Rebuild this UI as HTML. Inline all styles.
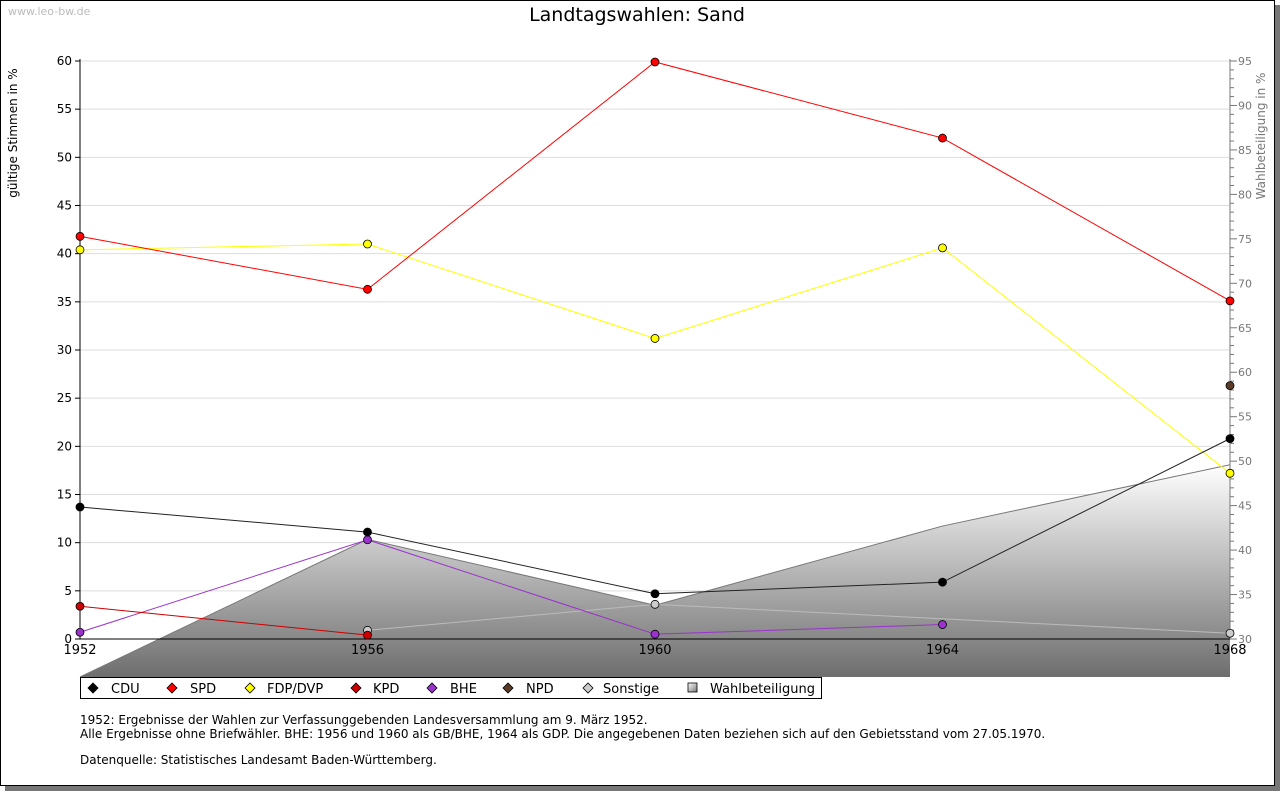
<!DOCTYPE html>
<html><head><meta charset="utf-8"><style>
body{margin:0;background:#fff;width:1280px;height:791px;overflow:hidden;font-family:"Liberation Sans","DejaVu Sans",sans-serif}
svg text{font-family:"DejaVu Sans","Liberation Sans",sans-serif}
</style></head><body>
<svg id="c" width="1280" height="791" xmlns="http://www.w3.org/2000/svg">
<defs>
<linearGradient id="ag" x1="0" y1="0" x2="0" y2="1">
<stop offset="0" stop-color="#ffffff"/><stop offset="1" stop-color="#6e6e6e"/></linearGradient>
<linearGradient id="lg" x1="0" y1="0" x2="1" y2="1">
<stop offset="0" stop-color="#fff"/><stop offset="1" stop-color="#777"/></linearGradient>
</defs>
<rect x="5" y="5" width="1275" height="786" fill="#777"/>
<rect x="0.5" y="0.5" width="1274" height="785" fill="#fff" stroke="#000"/>
<text x="8" y="15" font-size="11" fill="#bbb">www.leo-bw.de</text>
<text x="637" y="21" font-size="19" text-anchor="middle">Landtagswahlen: Sand</text>
<text transform="translate(17,133) rotate(-90)" font-size="12" text-anchor="middle">gültige Stimmen in %</text>
<text transform="translate(1265,136) rotate(-90)" font-size="12" fill="#777" text-anchor="middle">Wahlbeteiligung in %</text>
<g id="grid"></g><g id="area"></g><g id="axes"></g><g id="series"></g><g id="legend"></g>
<g font-size="12">
<text x="80" y="724">1952: Ergebnisse der Wahlen zur Verfassunggebenden Landesversammlung am 9. März 1952.</text>
<text x="80" y="738">Alle Ergebnisse ohne Briefwähler. BHE: 1956 und 1960 als GB/BHE, 1964 als GDP. Die angegebenen Daten beziehen sich auf den Gebietsstand vom 27.05.1970.</text>
<text x="80" y="764">Datenquelle: Statistisches Landesamt Baden-Württemberg.</text>
</g>
</svg>
<script>
const years=[1952,1956,1960,1964,1968];
const cdu=[13.7,11.1,4.7,5.9,20.8];
const spd=[41.8,36.3,59.9,52.0,35.1];
const fdp=[40.4,41.0,31.2,40.6,17.2];
const kpd=[3.4,0.4,null,null,null];
const bhe=[0.7,10.3,0.5,1.5,null];
const npd=[null,null,null,null,26.3];
const sonst=[null,0.9,3.6,null,0.6];
const turnout=[25.7,41.2,33.8,42.7,49.6];
const leftTicks=[0,5,10,15,20,25,30,35,40,45,50,55,60];
const rightTicks=[30,35,40,45,50,55,60,65,70,75,80,85,90,95];
const NS="http://www.w3.org/2000/svg";
const X0=80,X1=1230,Y0=639,Y1=61;
const xs=i=>X0+(X1-X0)*(years[i]-years[0])/(years[4]-years[0]);
const yl=v=>Y0-(Y0-Y1)*v/60;
const yr=v=>Y0-(Y0-Y1)*(v-30)/65;
function mk(t,a,p){const e=document.createElementNS(NS,t);for(const k in a)e.setAttribute(k,a[k]);p.appendChild(e);return e;}
const G=id=>document.getElementById(id);
leftTicks.forEach(v=>{
 if(v>0){const l=mk('line',{x1:X0,x2:X1,y1:yl(v),y2:yl(v),stroke:'#ddd'},G('grid'));
 
 }
 mk('line',{x1:X0-5,x2:X0,y1:yl(v),y2:yl(v),stroke:'#000'},G('axes'));
 const t=mk('text',{x:X0-8,y:yl(v)+4,'font-size':12,'text-anchor':'end'},G('axes'));t.textContent=v;
 
 
});
for(let v=30;v<=95;v++){mk('line',{x1:X1,x2:X1+(v%5?4:7),y1:yr(v),y2:yr(v),stroke:'#777'},G('axes'));}
rightTicks.forEach(v=>{const t=mk('text',{x:X1+8,y:yr(v)+4,'font-size':11,fill:'#777'},G('axes'));t.textContent=v;
 
 });
mk('line',{x1:X0,x2:X0,y1:Y1-2,y2:Y0,stroke:'#000'},G('axes'));
mk('line',{x1:X1,x2:X1,y1:Y1-2,y2:Y0,stroke:'#777'},G('axes'));
const AB=677;
let d=`M${X0},${AB}`;turnout.forEach((v,i)=>{d+=` L${xs(i)},${Math.min(AB,yr(v))}`;});d+=` L${X1},${AB} Z`;
const ar=mk('path',{d:d,fill:'url(#ag)'},G('area'));


let dl='';turnout.forEach((v,i)=>{dl+=(i?' L':'M')+xs(i)+','+Math.min(AB,yr(v));});
mk('path',{d:dl,fill:'none',stroke:'#777'},G('area'));
mk('line',{x1:X0,x2:X1,y1:Y0,y2:Y0,stroke:'#000'},G('axes'));
years.forEach((y,i)=>{const t=mk('text',{x:xs(i),y:654,'font-size':13,'text-anchor':'middle'},G('axes'));t.textContent=y;
 
 });
function diamond(x,y,fill,p){return mk('path',{d:`M${x-5},${y} L${x},${y-5} L${x+5},${y} L${x},${y+5} Z`,fill:fill,stroke:'#000','stroke-width':0.8},p);}
function circ(x,y,fill,p){return mk('circle',{cx:x,cy:y,r:4,fill:fill,stroke:'#000','stroke-width':0.8},p);}
const series=[['sonstige',sonst,'#ccc','#bbb'],['npd',npd,'#5a3b28','#5a3b28'],['bhe',bhe,'#9933cc','#9933cc'],['kpd',kpd,'#cc0000','#cc0000'],['fdp',fdp,'#ffff00','#ffff00'],['spd',spd,'#ff0000','#ff0000'],['cdu',cdu,'#000','#222']];
series.forEach(([n,arr,mc,lc])=>{
 const g=mk('g',{},G('series'));
 
 
 let p='';arr.forEach((v,i)=>{if(v!=null)p+=(p?' L':'M')+xs(i)+','+yl(v);});
 mk('path',{d:p,fill:'none',stroke:lc,'stroke-width':1},g);
 arr.forEach((v,i)=>{if(v==null)return;const m=circ(xs(i),yl(v),mc,g);
  
  });
});
const L=G('legend');
const lb=mk('rect',{x:80.5,y:677.5,width:741,height:21,fill:'#fff',stroke:'#000'},L);


const le=[['CDU','#000',93,111],['SPD','#ff0000',172,190],['FDP/DVP','#ffff00',250,267],['KPD','#cc0000',356,373],['BHE','#9933cc',432,450],['NPD','#5a3b28',508,526],['Sonstige','#ccc',588,603]];
le.forEach(([t,c,mx,tx])=>{diamond(mx,688,c,L);const e=mk('text',{x:tx,y:693,'font-size':13},L);e.textContent=t;
 
 });
mk('rect',{x:688,y:683,width:9,height:9,fill:'url(#lg)',stroke:'#000','stroke-width':0.8},L);
const lt=mk('text',{x:710,y:693,'font-size':13},L);lt.textContent='Wahlbeteiligung';


</script>
</body></html>
